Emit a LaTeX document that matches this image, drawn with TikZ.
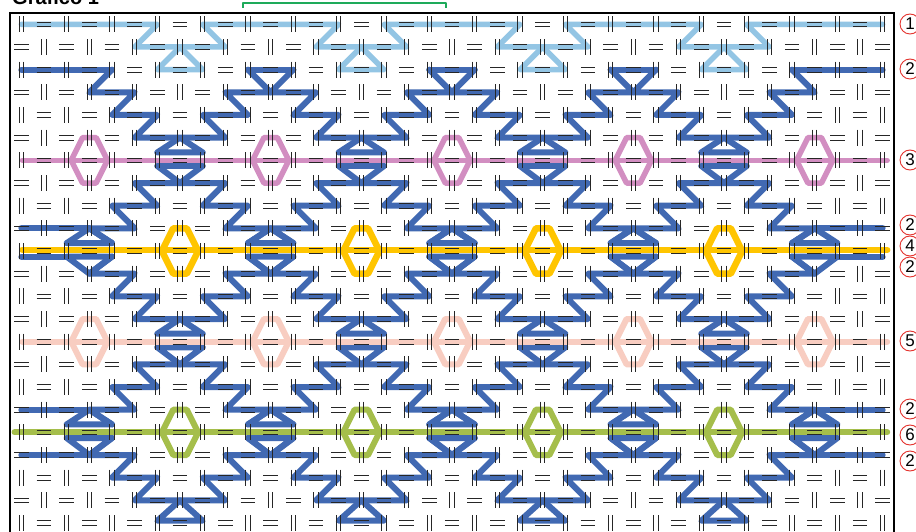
\documentclass[tikz,border=0pt]{standalone}
\usepackage{fontspec}
\setmainfont{Liberation Sans}
\definecolor{lb}{RGB}{147,197,228}
\definecolor{db}{RGB}{65,105,178}
\definecolor{pk}{RGB}{210,142,193}
\definecolor{yl}{RGB}{255,197,0}
\definecolor{pc}{RGB}{248,205,193}
\definecolor{gr}{RGB}{165,190,75}
\definecolor{rd}{RGB}{228,50,45}
\definecolor{brk}{RGB}{30,170,90}
\tikzset{
 symb/.style={draw=black!85, line width=0.85pt, line cap=butt},
 lbs/.style={draw=lb, line width=5.5pt},
 dbs/.style={draw=db, line width=6pt},
 pks/.style={draw=pk, line width=5.5pt},
 yls/.style={draw=yl, line width=6.5pt},
 pcs/.style={draw=pc, line width=6pt},
 grs/.style={draw=gr, line width=6pt},
 lbl/.style={circle, draw=rd, line width=0.9pt, minimum size=20pt, inner sep=0pt, font=\fontsize{17}{17}\selectfont},
}
\begin{document}
\begin{tikzpicture}[x=1pt,y=-1pt,line cap=round,line join=round]
\useasboundingbox (0,0) rectangle (916,532);
\fill[white] (0,0) rectangle (916,532);
\begin{scope}[xshift=21.3333pt,yshift=-24.3333pt,x=22.6667pt,y=-22.6667pt]
 % ---------- light blue (1)
 \draw[lbs] (0,0) -- (6,0) -- (5,1) -- (9,1) -- (8,0) -- (14,0) -- (13,1) -- (17,1) -- (16,0) -- (22,0) -- (21,1) -- (25,1) -- (24,0) -- (30,0) -- (29,1) -- (33,1) -- (32,0) -- (38,0);
 \foreach \v in {7,15,23,31} \draw[lbs] (\v,1) -- (\v-1,2) -- (\v+1,2) -- cycle;
 % ---------- dark blue (2)
 \foreach \o/\t in {0/2, 8/10.25, 16/18.25} {
  \foreach \v in {7,15,23,31} {
   \draw[dbs] (\v-3,\t) -- (\v-4,3+\o) -- (\v-2,3+\o) -- (\v-3,4+\o) -- (\v-1,4+\o) -- (\v-2,5+\o) -- (\v+2,5+\o) -- (\v+1,4+\o) -- (\v+3,4+\o) -- (\v+2,3+\o) -- (\v+4,3+\o) -- (\v+3,\t);
  }
 }
 \foreach \o in {0,8} {
  \foreach \v in {7,15,23,31} {
   \draw[dbs] (\v-3,9.65+\o) -- (\v-4,9+\o) -- (\v-2,9+\o) -- (\v-3,8+\o) -- (\v-1,8+\o) -- (\v-2,7+\o) -- (\v+2,7+\o) -- (\v+1,8+\o) -- (\v+3,8+\o) -- (\v+2,9+\o) -- (\v+4,9+\o) -- (\v+3,9.65+\o);
   \draw[dbs] (\v,5+\o) -- (\v-1,5.65+\o) -- (\v+1,5.65+\o) -- cycle;
   \draw[dbs] (\v-1,6.25+\o) -- (\v,7+\o) -- (\v+1,6.25+\o) -- cycle;
  }
  \foreach \h in {3,11,19,27,35} {
   \draw[dbs] (\h,9+\o) -- (\h-1,9.65+\o) -- (\h+1,9.65+\o) -- cycle;
   \draw[dbs] (\h-1,10.25+\o) -- (\h,11+\o) -- (\h+1,10.25+\o) -- cycle;
  }
 }
 \foreach \h in {11,19,27} \draw[dbs] (\h-1,2) -- (\h+1,2);
 \foreach \v in {7,15,23,31} \draw[dbs] (\v,21) -- (\v-1,21.9) -- (\v+1,21.9) -- cycle;
 \draw[dbs] (0,2) -- (4,2) (34,2) -- (38,2);
 \draw[dbs] (0,9) -- (3,9) (35,9) -- (38,9);
 \draw[dbs] (0,10.25) -- (2,10.25) (36,10.25) -- (38,10.25);
 \draw[dbs] (0,17) -- (3,17) (35,17) -- (38,17);
 \draw[dbs] (0,19) -- (3,19) (35,19) -- (38,19);
 % ---------- mauve (3)
 \draw[pks] (0.05,6) -- (38.2,6);
 \foreach \h in {3,11,19,27,35} \draw[pks] (\h-0.8,6) -- (\h-0.3,5) -- (\h+0.3,5) -- (\h+0.8,6) -- (\h+0.3,7) -- (\h-0.3,7) -- cycle;
 % ---------- yellow (4)
 \draw[yls] (0.05,9.95) -- (38.2,9.95);
 \foreach \v in {7,15,23,31} \draw[yls] (\v-0.8,10) -- (\v-0.3,9) -- (\v+0.3,9) -- (\v+0.8,10) -- (\v+0.3,11) -- (\v-0.3,11) -- cycle;
 % ---------- peach (5)
 \draw[pcs] (0.05,14) -- (38.2,14);
 \foreach \h in {3,11,19,27,35} \draw[pcs] (\h-0.8,14) -- (\h-0.3,13) -- (\h+0.3,13) -- (\h+0.8,14) -- (\h+0.3,15) -- (\h-0.3,15) -- cycle;
 % ---------- green (6)
 \draw[grs] (-0.3,18) -- (38.2,18);
 \foreach \v in {7,15,23,31} \draw[grs] (\v-0.8,18) -- (\v-0.3,17) -- (\v+0.3,17) -- (\v+0.8,18) -- (\v+0.3,19) -- (\v-0.3,19) -- cycle;
 % ---------- fabric symbols
 \foreach \c in {0,...,38} {
  \foreach \r in {0,...,22} {
   \pgfmathtruncatemacro{\p}{mod(\c+\r,2)}
   \ifnum\p=0
    \draw[symb] (\c-0.095,\r-0.35) -- (\c-0.095,\r+0.35) (\c+0.095,\r-0.35) -- (\c+0.095,\r+0.35);
   \else
    \draw[symb] (\c-0.32,\r-0.1) -- (\c+0.32,\r-0.1) (\c-0.32,\r+0.1) -- (\c+0.32,\r+0.1);
   \fi
  }
 }
\end{scope}
% frame
\draw[line width=2.2pt, line cap=butt, line join=miter] (10,13) rectangle (894,560);
% title and bracket
\node[anchor=base west, inner sep=0pt, font=\bfseries\fontsize{20}{20}\selectfont] (title) at (12,4.5) {Grafico 1};
\draw[brk, line width=1.5pt, line cap=butt] (243,8) -- (243,3) -- (446,3) -- (446,8);
% labels
\foreach \yy/\t [count=\i] in {24/1, 69/2, 160/3, 225/2, 246/4, 267/2, 341/5, 409/2, 435/6, 461/2}
 \node[lbl] (lab\i) at (910,\yy) {\t};
\end{tikzpicture}
\end{document}
